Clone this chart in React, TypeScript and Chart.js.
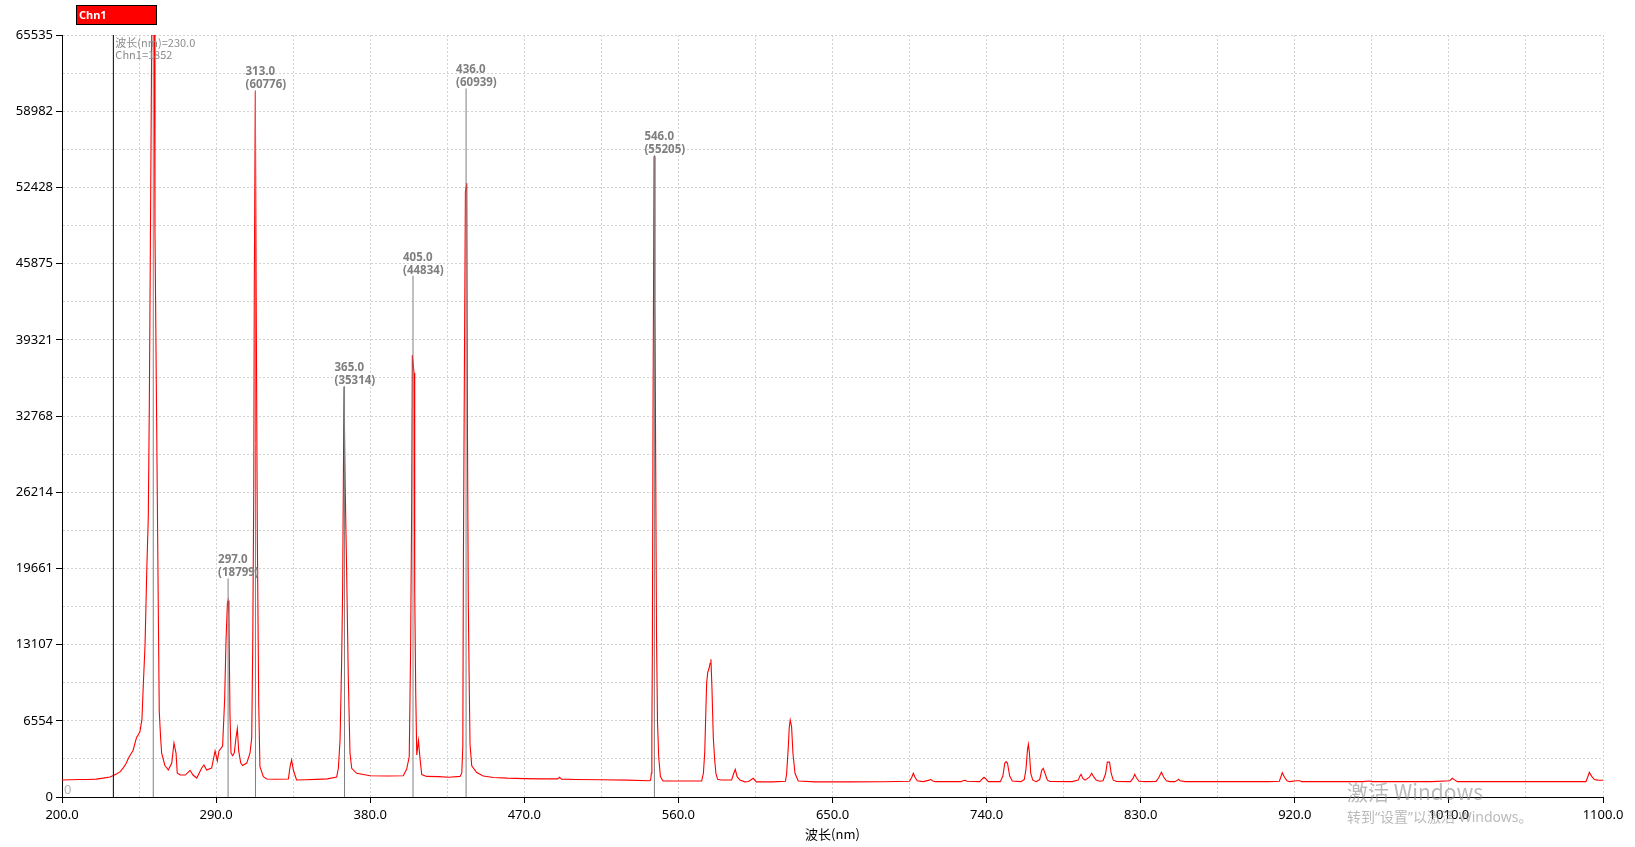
import React, { useEffect, useRef } from "react";
import { Chart, registerables } from "chart.js";

Chart.register(...registerables);

// ---- Data ----
const wavelengths: number[] = [
  200, 205, 210, 215, 220, 224, 228, 230, 232, 234, 236, 237.5, 239, 241.5, 243.5, 245.5, 246.7, 247.5, 248.5, 249.5,
  250.4, 251, 251.8, 252.4, 253.2, 253.9, 254.3, 255.3, 256.2, 256.8, 257.6, 258.2, 260.1, 262.1, 264.1, 265.4, 266.6,
  267.3, 269, 272, 274.8, 276.5, 278.7, 281.6, 282.9, 284.5, 287.4, 289.4, 290.7, 291.7, 293.8, 295, 295.8, 296.6, 297,
  297.5, 298.1, 298.7, 299.7, 300.6, 301.6, 302.4, 303.2, 304.4, 305.5, 307.9, 309.8, 310.8, 311.4, 312, 312.3, 312.9,
  313.5, 314.1, 314.9, 315.6, 317.6, 319.6, 325, 332.2, 333.2, 334.1, 335.1, 337, 342, 348.7, 355, 360.4, 361.4, 362.4,
  363.3, 363.9, 364.7, 365.4, 366.3, 367.2, 368.2, 369.2, 372.1, 380, 390, 399.3, 401.3, 402.8, 403.6, 404.2, 404.6,
  405.6, 406, 406.6, 407.2, 408.2, 409.1, 410.1, 413, 420, 426, 432.5, 433.5, 434.1, 434.4, 435, 435.6, 436.4, 436.8,
  437.3, 437.9, 438.3, 439.3, 442.2, 446, 452, 460, 470, 480, 489.5, 490.6, 491.7, 500, 515, 530, 543.3, 543.8, 544.2,
  544.5, 544.8, 545.2, 545.8, 546.3, 546.7, 547.2, 547.8, 548.5, 549.5, 551, 560, 573.6, 574.6, 575.4, 576.1, 576.5,
  577.1, 577.9, 578.5, 579, 579.6, 580.4, 581.2, 581.9, 582.9, 585, 591.1, 592, 593.2, 594.3, 595.9, 598.8, 601, 603.7,
  605.6, 615, 622.5, 623.2, 624.2, 624.7, 625.3, 626.1, 626.9, 628.1, 630, 640, 660, 680, 695, 696.3, 697.2, 698.2,
  699.5, 703, 706.5, 707.3, 708.3, 710, 725, 726.6, 727.4, 728.5, 736, 737.5, 738.5, 739.6, 741, 748, 749.5, 750.6,
  751.4, 752.2, 753.5, 755, 760, 762, 763, 763.9, 764.4, 765, 765.8, 767, 769, 771, 772.2, 773.1, 774.2, 775.5, 777,
  790, 793.5, 794.5, 795.2, 796.2, 797.5, 800, 801.4, 802.5, 804, 806, 808, 809.5, 810.5, 811.8, 812.8, 814, 816, 824,
  825.5, 826.5, 827.5, 829, 833, 839, 840.5, 842.1, 843.5, 845, 847, 850, 851.5, 852, 853, 856, 880, 905, 911, 912.7,
  914, 915.5, 917, 921, 923, 924, 960, 963.9, 965, 1000, 1010.5, 1012, 1013.5, 1015, 1050, 1085, 1090, 1091.3, 1092,
  1093.5, 1095, 1097, 1100,
];

const chn1: number[] = [
  1460, 1480, 1500, 1510, 1540, 1620, 1720, 1852, 2000, 2180, 2550, 2900, 3400, 4000, 5100, 5600, 6700, 9700, 13070, 19440,
  24080, 33630, 51600, 65535, 65535, 65535, 48590, 31900, 16860, 7400, 5070, 3780, 2710, 2320, 2920, 4640, 3780,
  2060, 1890, 1890, 2300, 1890, 1630, 2490, 2750, 2320, 2490, 3960, 3100, 3960, 4390, 8430, 13500, 16680, 16900,
  15600, 7140, 3780, 3550, 3780, 5070, 5880, 3960, 2920, 2710, 2920, 3780, 5070, 13070, 26600, 43770, 60680,
  40160, 21960, 8000, 2610, 1750, 1550, 1530, 1550, 2610, 3180, 2320, 1460, 1480, 1520, 1560, 1720, 2470, 4900,
  11500, 17800, 35314, 26570, 18950, 10350, 3760, 2470, 2040, 1830, 1800, 1830, 2400, 3460, 12680, 24500, 38000,
  36470, 17740, 8860, 3610, 4840, 3300, 1930, 1770, 1750, 1700, 1770, 2070, 4390, 19440, 36330, 52060, 52790, 31250,
  16510, 9000, 4530, 2690, 2100, 1800, 1680, 1620, 1580, 1560, 1560, 1700, 1540, 1510, 1480, 1450, 1400, 1460, 2040,
  5760, 12640, 33730, 55100, 42520, 29620, 14100, 6450, 3440, 1750, 1380, 1380, 1380, 2040, 3900, 7770, 9780,
  10690, 11070, 11500, 11840, 9350, 5050, 3180, 2040, 1520, 1460, 1460, 1890, 2380, 1750, 1460, 1300, 1330, 1610,
  1300, 1300, 1350, 1980, 4330, 5910, 6620, 6050, 3760, 2040, 1380, 1300, 1300, 1310, 1350, 1700, 2040, 1700,
  1400, 1320, 1450, 1520, 1400, 1320, 1320, 1420, 1440, 1350, 1320, 1550, 1690, 1550, 1320, 1320, 1800, 2900,
  3040, 2900, 1800, 1380, 1320, 1500, 2400, 4100, 4530, 3800, 2000, 1450, 1320, 1500, 2300, 2470, 2000, 1450, 1330,
  1320, 1450, 1800, 1950, 1600, 1450, 1700, 2040, 1750, 1450, 1350, 1400, 2000, 3000, 3000, 2000, 1450, 1330, 1320,
  1600, 1950, 1650, 1350, 1320, 1340, 1650, 2120, 1700, 1400, 1320, 1320, 1450, 1520, 1400, 1320, 1320, 1320, 1360, 2090,
  1700, 1400, 1320, 1400, 1400, 1320, 1320, 1380, 1320, 1320, 1400, 1610, 1450, 1320, 1320, 1320, 1320, 1800, 2120,
  1750, 1500, 1450, 1440,
];

const peakWavelengths: number[] = [253.3, 297.0, 313.0, 365.0, 405.0, 436.0, 546.0];
const peakValues: number[] = [65535, 18799, 60776, 35314, 44834, 60939, 55205];
const peakLabelled: boolean[] = [false, true, true, true, true, true, true];

const cursorWavelength = 230.0;
const cursorValue = 1852;

const yTickValues: number[] = [0, 6554, 13107, 19661, 26214, 32768, 39321, 45875, 52428, 58982, 65535];
const xTickLabels: string[] = ["200.0", "290.0", "380.0", "470.0", "560.0", "650.0", "740.0", "830.0", "920.0", "1010.0", "1100.0"];

const seriesName = "Chn1";
const xTitle = "波长(nm)";

const FONT = "'Noto Sans', 'Noto Sans CJK SC', sans-serif";
const CJK_FONT = "'Noto Sans CJK SC', 'Noto Sans', sans-serif";

const overlayPlugin = {
  id: "overlay",
  afterDatasetsDraw(chart: any) {
    const { ctx, scales } = chart;
    const xs = scales.x;
    const ys = scales.y;
    ctx.save();
    ctx.font = `bold 11.5px ${FONT}`;
    ctx.fillStyle = "#7f7f7f";
    ctx.textAlign = "left";
    ctx.textBaseline = "alphabetic";
    peakWavelengths.forEach((w, i) => {
      if (!peakLabelled[i]) return;
      const px = xs.getPixelForValue(w);
      const py = ys.getPixelForValue(peakValues[i]);
      ctx.fillText(w.toFixed(1), px - 10, py - 15);
      ctx.fillText(`(${peakValues[i]})`, px - 10, py - 2);
    });
    const cx = xs.getPixelForValue(cursorWavelength);
    ctx.font = `11px ${CJK_FONT}`;
    ctx.fillStyle = "#8c8c8c";
    ctx.fillText(`波长(nm)=${cursorWavelength.toFixed(1)}`, cx + 2, ys.top + 12);
    ctx.fillText(`${seriesName}=${cursorValue}`, cx + 2, ys.top + 24);
    ctx.font = `13px ${FONT}`;
    ctx.fillStyle = "#b4b4b4";
    ctx.fillText("0", xs.left + 2, ys.bottom - 3);
    ctx.restore();
  },
  afterDraw(chart: any) {
    const { ctx } = chart;
    ctx.save();
    ctx.fillStyle = "#ff0000";
    ctx.fillRect(76, 5, 81, 20);
    ctx.strokeStyle = "#000";
    ctx.lineWidth = 1;
    ctx.strokeRect(76.5, 5.5, 80, 19);
    ctx.fillStyle = "#fff";
    ctx.font = `bold 11px ${FONT}`;
    ctx.textAlign = "left";
    ctx.textBaseline = "alphabetic";
    ctx.fillText(seriesName, 79, 19);
    ctx.fillStyle = "rgba(140,140,140,0.6)";
    ctx.font = `21px ${CJK_FONT}`;
    ctx.fillText("激活 Windows", 1347, 800);
    ctx.font = `14px ${FONT}`;
    ctx.fillText("转到\u201C设置\u201D以激活 Windows。", 1347, 822);
    ctx.restore();
  },
};

export default function App() {
  const canvasRef = useRef<HTMLCanvasElement | null>(null);

  useEffect(() => {
    if (!canvasRef.current) return;
    const spectrum = wavelengths.map((w, i) => ({ x: w, y: chn1[i] }));
    const markerSets = peakWavelengths.map((w, i) => ({
      label: `peak${i}`,
      data: [
        { x: w, y: 0 },
        { x: w, y: peakValues[i] },
      ],
      borderColor: "#808080",
      borderWidth: 1,
      pointRadius: 0,
      order: 1,
    }));
    const tickCol = (c: any) => (c.index % 2 === 0 ? "#000" : "rgba(0,0,0,0)");
    const chart = new Chart(canvasRef.current, {
      type: "line",
      data: {
        datasets: [
          {
            label: "cursor",
            data: [
              { x: cursorWavelength, y: 0 },
              { x: cursorWavelength, y: 65535 },
            ],
            borderColor: "#000",
            borderWidth: 1,
            pointRadius: 0,
            order: 0,
          },
          ...markerSets,
          {
            label: seriesName,
            data: spectrum,
            borderColor: "#ff0000",
            borderWidth: 1.1,
            pointRadius: 0,
            tension: 0,
            order: 2,
          },
        ],
      },
      options: {
        animation: false,
        responsive: false,
        events: [],
        layout: { padding: { top: 35, right: 32, left: 0, bottom: 0 } },
        plugins: { legend: { display: false }, tooltip: { enabled: false } },
        scales: {
          x: {
            type: "linear",
            min: 200,
            max: 1100,
            afterBuildTicks: (scale: any) => {
              const t = [];
              for (let k = 0; k <= 20; k++) t.push({ value: 200 + 45 * k });
              scale.ticks = t;
            },
            afterFit: (scale: any) => {
              scale.height = 50;
            },
            ticks: {
              autoSkip: false,
              maxRotation: 0,
              padding: 4,
              color: "#000",
              font: { family: FONT, size: 13 },
              callback: (_v: any, index: number) => (index % 2 === 0 ? xTickLabels[index / 2] : ""),
            },
            grid: { color: "#d2d2d2", lineWidth: 1, tickLength: 6, tickColor: tickCol },
            border: { display: true, color: "#000", width: 1, dash: [2, 2] },
            title: {
              display: true,
              text: xTitle,
              color: "#000",
              font: { family: CJK_FONT, size: 13 },
              padding: { top: 0, bottom: 5 },
            },
          },
          y: {
            type: "linear",
            min: 0,
            max: 65535,
            afterBuildTicks: (scale: any) => {
              const t = [];
              for (let k = 0; k <= 20; k++) t.push({ value: k === 20 ? 65535 : (65535 / 20) * k });
              scale.ticks = t;
            },
            afterFit: (scale: any) => {
              scale.width = 62;
            },
            ticks: {
              autoSkip: false,
              padding: 3,
              color: "#000",
              font: { family: FONT, size: 13 },
              callback: (_v: any, index: number) => (index % 2 === 0 ? String(yTickValues[index / 2]) : ""),
            },
            grid: { color: "#d2d2d2", lineWidth: 1, tickLength: 6, tickColor: tickCol },
            border: { display: true, color: "#000", width: 1, dash: [2, 2] },
          },
        },
      },
      plugins: [overlayPlugin],
    } as any);
    return () => chart.destroy();
  }, []);

  return (
    <div style={{ position: "fixed", left: 0, top: 0, width: 1635, height: 847, background: "#fff" }}>
      <canvas ref={canvasRef} width={1635} height={847} style={{ display: "block" }} />
    </div>
  );
}
